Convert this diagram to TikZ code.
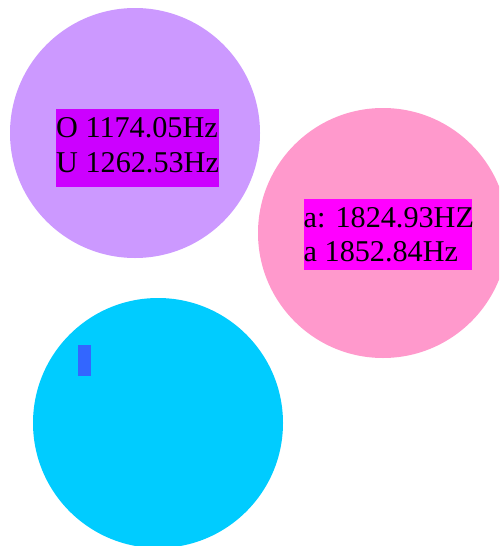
\documentclass[tikz,border=0pt]{standalone}
\usepackage{fontspec}
\setmainfont{Liberation Serif}
\definecolor{lilac}{HTML}{CC99FF}
\definecolor{violetbox}{HTML}{CC00FF}
\definecolor{pinkc}{HTML}{FF99CC}
\definecolor{magbox}{HTML}{FF00FF}
\definecolor{cyanc}{HTML}{00CCFF}
\definecolor{bluebar}{HTML}{3366FF}
\begin{document}
\begin{tikzpicture}[x=1pt,y=-1pt,
  bubble/.style={circle,minimum size=250pt,inner sep=0pt,draw=none},
  lbl/.style={anchor=base west,inner sep=0pt,font=\fontsize{30.2}{34}\selectfont}]
\useasboundingbox (0,0) rectangle (499,546);
\clip (0,0) rectangle (499,546);
\fill[white] (0,0) rectangle (499,546);
\node[bubble,fill=lilac] (c1) at (135,133) {};
\node[bubble,fill=pinkc] (c2) at (383,233) {};
\node[bubble,fill=cyanc] (c3) at (158,423) {};
\fill[violetbox] (55.5,108.5) rectangle (219,186.5);
\fill[magbox] (303.5,198.5) rectangle (471.5,269.5);
\fill[bluebar] (78.3,345) rectangle (91,375.7);
\node[lbl] (t1) at (56,137.7) {O 1174.05Hz};
\node[lbl] (t2) at (56,172.3) {U 1262.53Hz};
\node[lbl] (t3) at (303.5,227.3) {a: 1824.93HZ};
\node[lbl] (t4) at (303.5,261.7) {a 1852.84Hz};
\end{tikzpicture}
\end{document}
